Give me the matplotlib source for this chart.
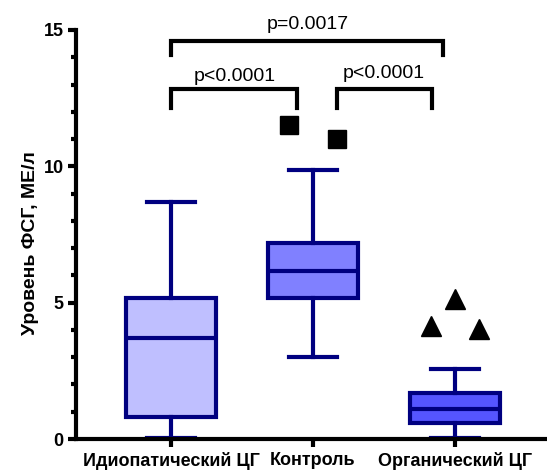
import matplotlib
matplotlib.use("Agg")
import matplotlib.pyplot as plt
from matplotlib.ticker import MultipleLocator

plt.rcParams['font.family'] = ['Liberation Sans', 'DejaVu Sans']

# box statistics
groups = ['Идиопатический ЦГ', 'Контроль', 'Органический ЦГ']
whislo = [0.05, 3.0, 0.05]
q1 = [0.8, 5.17, 0.6]
med = [3.7, 6.15, 1.1]
q3 = [5.17, 7.2, 1.7]
whishi = [8.7, 9.87, 2.58]
colors = ['#BFBFFF', '#8080FF', '#5555FF']

# outliers (group position, x offset, value)
sq_x = [2 - 0.17, 2 + 0.17]
sq_y = [11.5, 11.0]
tri_x = [3, 3 - 0.17, 3 + 0.17]
tri_y = [5.13, 4.13, 4.03]

# significance brackets: x1, x2, top, drop, label, label x, label y
brackets = [
    (1.0, 1.887, 12.85, 12.15, 'p<0.0001', 1.45, 13.3),
    (2.17, 2.84, 12.85, 12.15, 'p<0.0001', 2.5, 13.4),
    (1.0, 2.915, 14.6, 14.08, 'p=0.0017', 1.96, 15.2),
]

fig = plt.figure(figsize=(5.47, 4.76), dpi=100)
ax = fig.add_axes([0.139, 0.0777, 0.861, 0.8593])

stats = []
for i in range(3):
    stats.append(dict(med=med[i], q1=q1[i], q3=q3[i], whislo=whislo[i],
                      whishi=whishi[i], fliers=[], label=groups[i]))

navy = '#000080'
lw = 3
bp = ax.bxp(stats, positions=[1, 2, 3], widths=0.63, capwidths=0.34,
            patch_artist=True, showfliers=False,
            boxprops=dict(edgecolor=navy, linewidth=lw),
            medianprops=dict(color=navy, linewidth=lw),
            whiskerprops=dict(color=navy, linewidth=lw),
            capprops=dict(color=navy, linewidth=lw))
for patch, c in zip(bp['boxes'], colors):
    patch.set_facecolor(c)

ax.plot(sq_x, sq_y, 's', color='black', markersize=13, clip_on=False)
ax.plot(tri_x, tri_y, '^', color='black', markersize=14, clip_on=False)

for x1, x2, top, drop, lab, lx, ly in brackets:
    ax.plot([x1, x1, x2, x2], [drop, top, top, drop], color='black',
            linewidth=lw, clip_on=False, solid_joinstyle='miter')
    ax.text(lx, ly, lab, ha='center', va='center', fontsize=14)

ax.set_xlim(0.331, 3.648)
ax.set_ylim(0, 15)
ax.yaxis.set_major_locator(MultipleLocator(5))
ax.yaxis.set_minor_locator(MultipleLocator(1))
ax.set_xticks([1, 2, 3])
ax.set_xticklabels(groups, fontweight='bold', fontsize=13)
for t in ax.get_yticklabels():
    t.set_fontweight('bold')
    t.set_fontsize(13)
ax.set_ylabel('Уровень ФСГ, МЕ/л', fontweight='bold', fontsize=14)
ax.yaxis.set_label_coords(-0.078, 0.48)

ax.spines['top'].set_visible(False)
ax.spines['right'].set_visible(False)
ax.spines['left'].set_linewidth(lw)
ax.spines['bottom'].set_linewidth(lw)
ax.tick_params(axis='both', which='major', width=lw, length=6, pad=3)
ax.tick_params(axis='y', which='minor', width=lw, length=3.5)

fig.savefig('out.png', dpi=100)
